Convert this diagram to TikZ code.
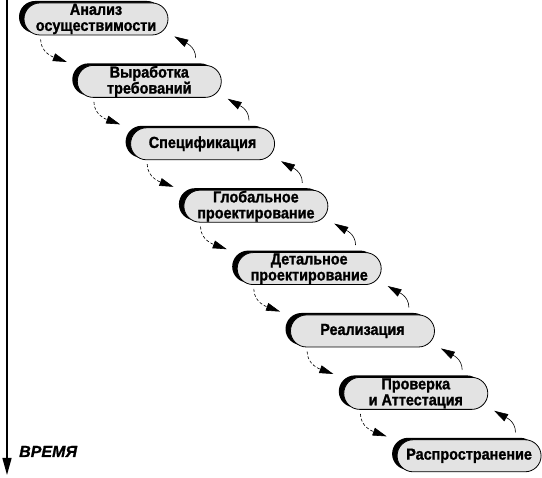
\documentclass[tikz,border=0pt]{standalone}
\usepackage{fontspec}
\setmainfont{Liberation Sans}
\newfontfamily\stagefont[FakeStretch=0.9,FakeBold=1.2]{Liberation Sans}
\newfontfamily\timefont[FakeBold=1]{Liberation Sans}
\usetikzlibrary{arrows.meta,shadows}

\tikzset{
  stage/.style={draw, line width=0.8pt, fill=gray!22, rounded corners=16pt,
    minimum width=144pt, minimum height=32pt, align=center, inner sep=0pt,
    font=\stagefont\bfseries\fontsize{16pt}{16pt}\selectfont,
    drop shadow={shadow xshift=-5pt, shadow yshift=2pt, fill=black, opacity=1}},
  fwd/.style={-{Triangle[length=14pt,width=8pt]}, dash pattern=on 3pt off 2pt, line width=0.6pt},
  bwd/.style={-{Triangle[length=14pt,width=8pt]}, line width=0.6pt}
}

\begin{document}
\begin{tikzpicture}[x=1pt, y=1pt]
  \useasboundingbox (0,0) rectangle (542,478);

  % time axis
  \coordinate (tstart) at (7,478);
  \coordinate (tend) at (7,3);
  \draw[-{Triangle[length=17pt,width=9pt]}, line width=1.4pt] (tstart) -- (tend);
  \node[anchor=base west, inner sep=0pt, font=\timefont\bfseries\itshape\fontsize{16pt}{16pt}\selectfont] (time) at (19,21) {ВРЕМЯ};

  % stages
  \node[stage] (anal) at (96,459) {Анализ\\осуществимости};
  \node[stage] (reqs) at (149.3,396.6) {Выработка\\требований};
  \node[stage] (spec) at (202.6,334.2) {Спецификация};
  \node[stage] (glob) at (255.9,271.8) {Глобальное\\проектирование};
  \node[stage] (detl) at (309.2,209.4) {Детальное\\проектирование};
  \node[stage] (impl) at (362.5,147) {Реализация};
  \node[stage] (verf) at (415.8,84.6) {Проверка\\и Аттестация};
  \node[stage] (dist) at (469.1,22.2) {Распространение};

  % forward
  \draw[fwd] ([xshift=17pt,yshift=-4pt]anal.south west) to[out=-90,in=160] ([xshift=-10pt,yshift=3pt]reqs.north west);
  \draw[fwd] ([xshift=17pt,yshift=-4pt]reqs.south west) to[out=-90,in=160] ([xshift=-10pt,yshift=3pt]spec.north west);
  \draw[fwd] ([xshift=17pt,yshift=-4pt]spec.south west) to[out=-90,in=160] ([xshift=-10pt,yshift=3pt]glob.north west);
  \draw[fwd] ([xshift=17pt,yshift=-4pt]glob.south west) to[out=-90,in=160] ([xshift=-10pt,yshift=3pt]detl.north west);
  \draw[fwd] ([xshift=17pt,yshift=-4pt]detl.south west) to[out=-90,in=160] ([xshift=-10pt,yshift=3pt]impl.north west);
  \draw[fwd] ([xshift=17pt,yshift=-4pt]impl.south west) to[out=-90,in=160] ([xshift=-10pt,yshift=3pt]verf.north west);
  \draw[fwd] ([xshift=17pt,yshift=-4pt]verf.south west) to[out=-90,in=160] ([xshift=-10pt,yshift=3pt]dist.north west);

  % backward
  \draw[bwd] ([xshift=-26pt,yshift=7pt]reqs.north east) to[out=90,in=-30] ([xshift=6pt,yshift=-1pt]anal.south east);
  \draw[bwd] ([xshift=-26pt,yshift=7pt]spec.north east) to[out=90,in=-30] ([xshift=6pt,yshift=-1pt]reqs.south east);
  \draw[bwd] ([xshift=-26pt,yshift=7pt]glob.north east) to[out=90,in=-30] ([xshift=6pt,yshift=-1pt]spec.south east);
  \draw[bwd] ([xshift=-26pt,yshift=7pt]detl.north east) to[out=90,in=-30] ([xshift=6pt,yshift=-1pt]glob.south east);
  \draw[bwd] ([xshift=-26pt,yshift=7pt]impl.north east) to[out=90,in=-30] ([xshift=6pt,yshift=-1pt]detl.south east);
  \draw[bwd] ([xshift=-26pt,yshift=7pt]verf.north east) to[out=90,in=-30] ([xshift=6pt,yshift=-1pt]impl.south east);
  \draw[bwd] ([xshift=-26pt,yshift=7pt]dist.north east) to[out=90,in=-30] ([xshift=6pt,yshift=-1pt]verf.south east);
\end{tikzpicture}
\end{document}
